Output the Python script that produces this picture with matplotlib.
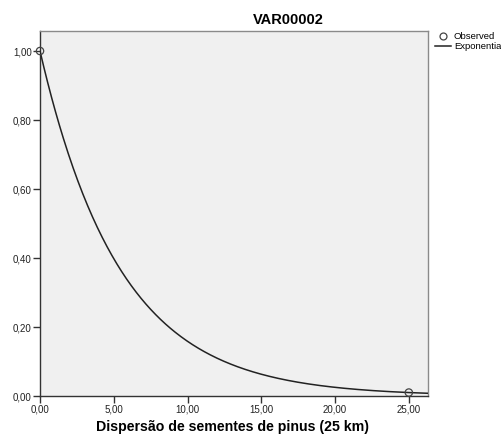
import matplotlib
matplotlib.use("Agg")
import matplotlib.pyplot as plt
from matplotlib.lines import Line2D
import numpy as np

plt.rcParams['font.family'] = ['Liberation Sans', 'DejaVu Sans']

# Observed points
obs_x = [0.0, 25.0]
obs_y = [1.0, 0.01]

x_ticks = [0, 5, 10, 15, 20, 25]
y_ticks = [0.0, 0.2, 0.4, 0.6, 0.8, 1.0]

title = "VAR00002"
x_label = "Dispersão de sementes de pinus (25 km)"
legend_labels = ['Observed', 'Exponentia']

# Exponential model y = b0 * exp(b1 * x), fitted on log scale
b1, log_b0 = np.polyfit(obs_x, np.log(obs_y), 1)
b0 = np.exp(log_b0)

W, H = 502, 440
fig = plt.figure(figsize=(W / 100, H / 100), dpi=100)
ax = fig.add_axes([40 / W, 44 / H, 388 / W, 365 / H])
ax.set_facecolor('#f0f0f0')

xmax = 26.3
xs = np.linspace(0, xmax, 400)
ax.plot(xs, b0 * np.exp(b1 * xs), color='#222222', lw=1.1, zorder=3)
ax.scatter(obs_x, obs_y, s=28, facecolors='none', edgecolors='#444444', lw=0.9, zorder=4, clip_on=False)

ax.set_xlim(0, xmax)
ax.set_ylim(0, 1.058)
ax.set_xticks(x_ticks)
ax.set_xticklabels([f"{t:.2f}".replace('.', ',') for t in x_ticks])
ax.set_yticks(y_ticks)
ax.set_yticklabels([f"{t:.2f}".replace('.', ',') for t in y_ticks])
ax.tick_params(direction='out', length=5, width=1, color='#333333', labelsize=7, pad=1, labelcolor='#222222')

for side in ['left', 'bottom']:
    ax.spines[side].set_color('#333333')
for side in ['top', 'right']:
    ax.spines[side].set_color('#8a8a8a')
for s in ax.spines.values():
    s.set_linewidth(1)

fig.text(288 / W, 1 - 20 / H, title, ha='center', va='center', fontsize=10.5, fontweight='bold')
fig.text(233 / W, 1 - 427 / H, x_label, ha='center', va='center', fontsize=10.2, fontweight='bold')

# Legend entries placed by hand right of the plot box
def fx(px):
    return px / W

def fy(py):
    return 1 - py / H

fig.add_artist(Line2D([fx(443)], [fy(36.5)], marker='o', markersize=5, markerfacecolor='none',
                      markeredgecolor='#444444', markeredgewidth=0.9, transform=fig.transFigure))
fig.add_artist(Line2D([fx(435), fx(451)], [fy(46), fy(46)], color='#222222', lw=1.1,
                      transform=fig.transFigure))
fig.text(fx(454), fy(36.5), legend_labels[0], ha='left', va='center', fontsize=6.8)
fig.text(fx(454), fy(46.5), legend_labels[1], ha='left', va='center', fontsize=6.8)

fig.savefig('out.png', dpi=100)
